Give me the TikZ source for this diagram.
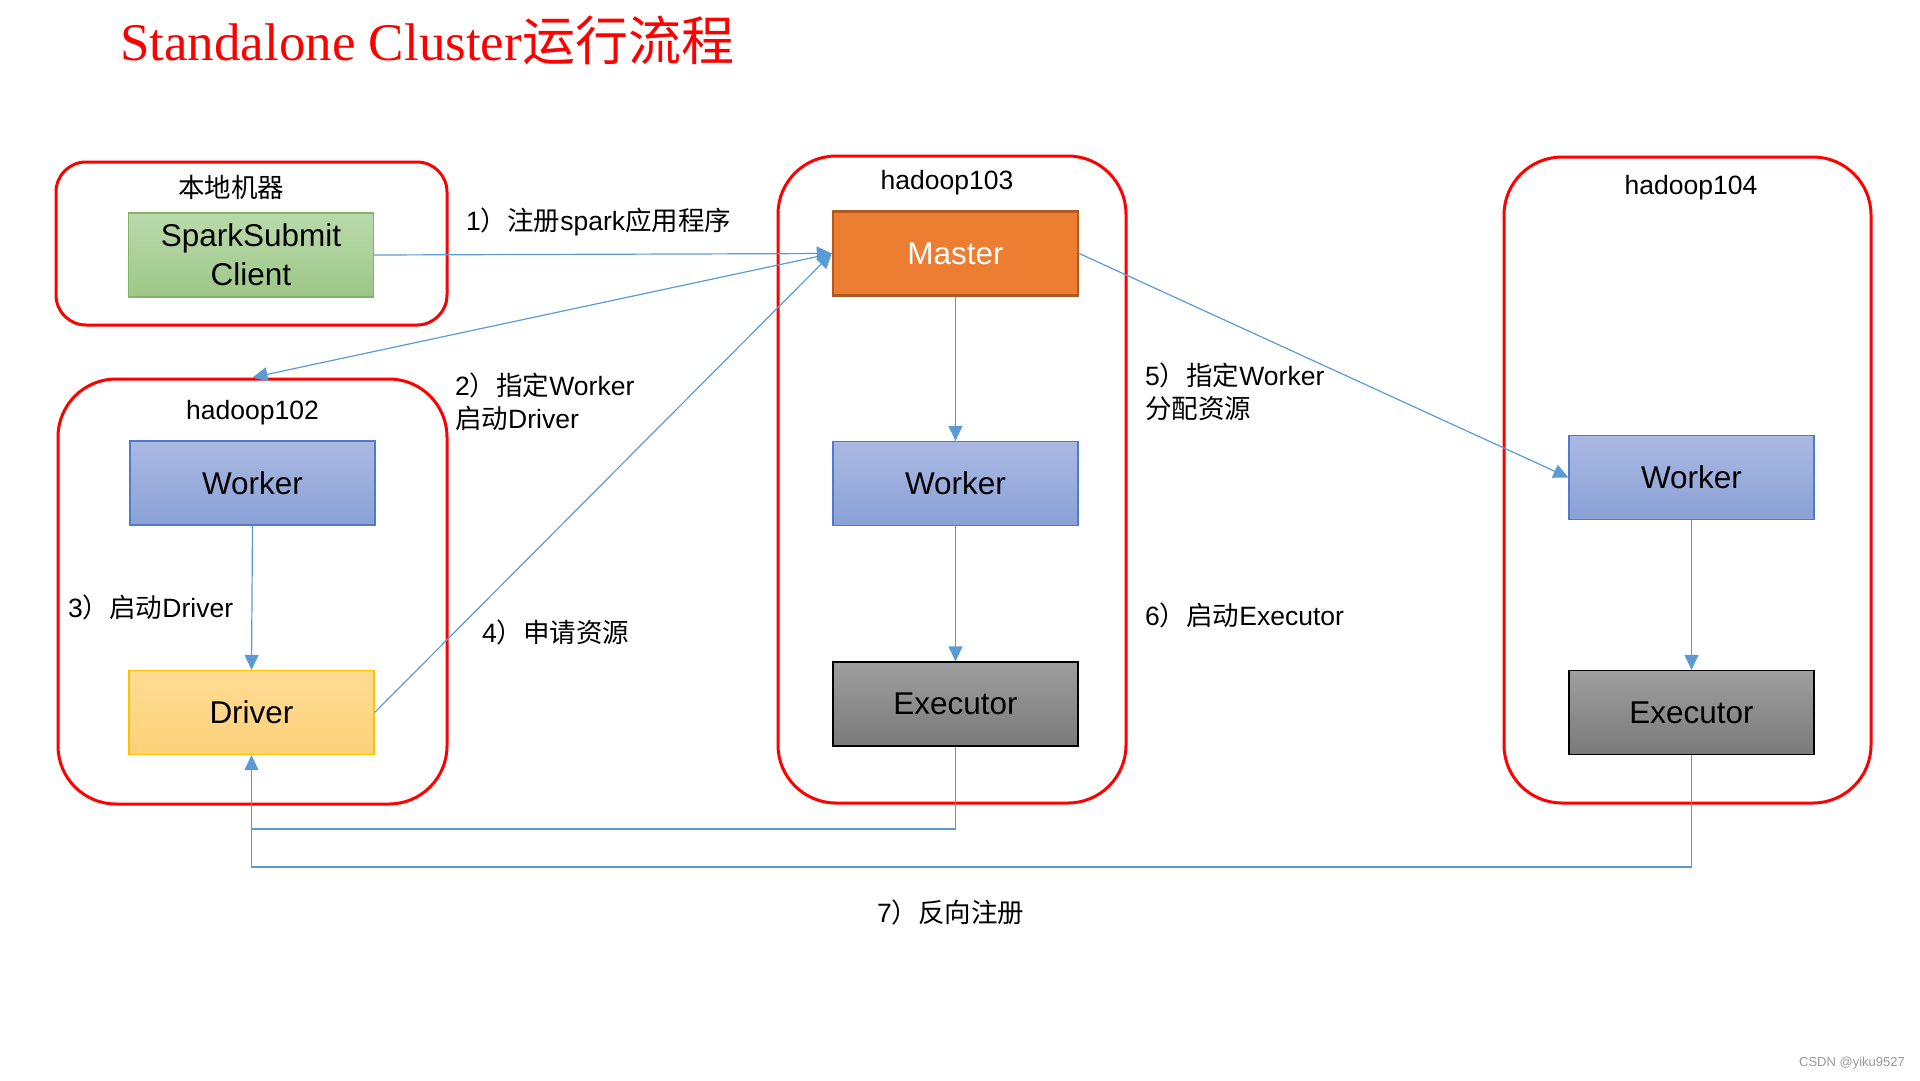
\documentclass[tikz,border=0pt]{standalone}
\usepackage{fontspec}
\setmainfont{Liberation Sans}
\newfontfamily\cjk{Noto Sans CJK SC}
\newfontfamily\titleserif{Liberation Serif}
\usetikzlibrary{arrows.meta}
\newcommand\zh[1]{{\cjk #1}}
\newcommand\myfs[2]{\fontsize{#1}{#2}\selectfont}
\definecolor{arrowblue}{HTML}{5B9BD5}
\definecolor{workertop}{HTML}{AAB9E2}
\definecolor{workerbot}{HTML}{8AA1D7}
\definecolor{workerborder}{HTML}{4F7BC8}
\definecolor{exectop}{HTML}{9E9E9E}
\definecolor{execbot}{HTML}{7A7A7A}
\definecolor{drivertop}{HTML}{FFDC93}
\definecolor{driverbot}{HTML}{FDD17A}
\definecolor{driverborder}{HTML}{FFC000}
\definecolor{clienttop}{HTML}{B9DAAB}
\definecolor{clientbot}{HTML}{9DC787}
\definecolor{clientborder}{HTML}{82B366}
\definecolor{masterfill}{HTML}{ED7D31}
\definecolor{masterborder}{HTML}{AE5A21}
\begin{document}
\begin{tikzpicture}[x=1pt,y=-1pt,
  container/.style={draw=red, line width=3pt, rounded corners=58pt, inner sep=0pt},
  box/.style={minimum width=245pt, minimum height=84pt, inner sep=0pt, line width=1.2pt, font=\myfs{31.5}{39}, align=center},
  workerbox/.style={box, draw=workerborder, top color=workertop, bottom color=workerbot},
  execbox/.style={box, draw=black, top color=exectop, bottom color=execbot},
  conn/.style={draw=arrowblue, line width=1.2pt},
  arr/.style={conn, -{Triangle[length=15pt,width=14pt]}},
  lbl/.style={inner sep=0pt, anchor=west, font=\myfs{26.5}{33}, align=left},
  hostlbl/.style={inner sep=0pt, font=\myfs{26.5}{33}},
]
\useasboundingbox (0,0) rectangle (1920,1080);

% title
\node[inner sep=0pt, anchor=base west, text=red, font=\myfs{53}{60}] (title) at (120,60)
  {{\titleserif Standalone Cluster}\zh{运行流程}};

% containers
\node[container, rounded corners=30pt, minimum width=391pt, minimum height=163pt] (local) at (251.5,243.5) {};
\node[container, minimum width=389pt, minimum height=425pt] (h102) at (252.5,591.5) {};
\node[container, minimum width=348pt, minimum height=647pt] (h103) at (952,479.5) {};
\node[container, minimum width=367pt, minimum height=646pt] (h104) at (1687.5,480) {};

% container labels
\node[hostlbl] (locallbl) at (231,187) {\zh{本地机器}};
\node[hostlbl] (h102lbl) at (252.5,413) {hadoop102};
\node[hostlbl] (h103lbl) at (947,183) {hadoop103};
\node[hostlbl] (h104lbl) at (1691,188) {hadoop104};

% boxes
\node[box, draw=clientborder, top color=clienttop, bottom color=clientbot] (client) at (251,255) {SparkSubmit\\Client};
\node[workerbox] (w102) at (252.5,483) {Worker};
\node[box, draw=driverborder, top color=drivertop, bottom color=driverbot] (driver) at (251.5,712.5) {Driver};
\node[box, draw=masterborder, line width=2.5pt, fill=masterfill, text=white] (master) at (955.5,253.5) {Master};
\node[workerbox] (w103) at (955.5,483.5) {Worker};
\node[execbox] (e103) at (955.5,704) {Executor};
\node[workerbox] (w104) at (1691.5,477.5) {Worker};
\node[execbox] (e104) at (1691.5,712.5) {Executor};

% connectors
\draw[arr] (client.east) -- (master.west);
\draw[arr] (master.west) -- (h102.north);
\draw[arr] (w102.south) -- (driver.north);
\draw[arr] (driver.east) -- (master.west);
\draw[arr] (master.east) -- (w104.west);
\draw[arr] (master.south) -- (w103.north);
\draw[arr] (w103.south) -- (e103.north);
\draw[arr] (w104.south) -- (e104.north);
\coordinate (c1) at (251.5,829);
\coordinate (c2) at (251.5,867);
\draw[conn] (e104.south) |- (c2) -- (c1);
\draw[arr] (e103.south) |- (c1) -- (driver.south);

% step labels
\node[lbl] (l1) at (466,222) {1\zh{）注册}spark\zh{应用程序}};
\node[lbl] (l2) at (455,401.5) {2\zh{）指定}Worker\\\zh{启动}Driver};
\node[lbl] (l3) at (68,607) {3\zh{）启动}Driver};
\node[lbl] (l4) at (482,632) {4\zh{）申请资源}};
\node[lbl] (l5) at (1145,392) {5\zh{）指定}Worker\\\zh{分配资源}};
\node[lbl] (l6) at (1145,615) {6\zh{）启动}Executor};
\node[lbl] (l7) at (877,912) {7\zh{）反向注册}};

% watermark
\node[inner sep=0pt, anchor=east, text=black!40, font=\myfs{13}{15}] (wm) at (1905,1063) {CSDN @yiku9527};
\end{tikzpicture}
\end{document}
